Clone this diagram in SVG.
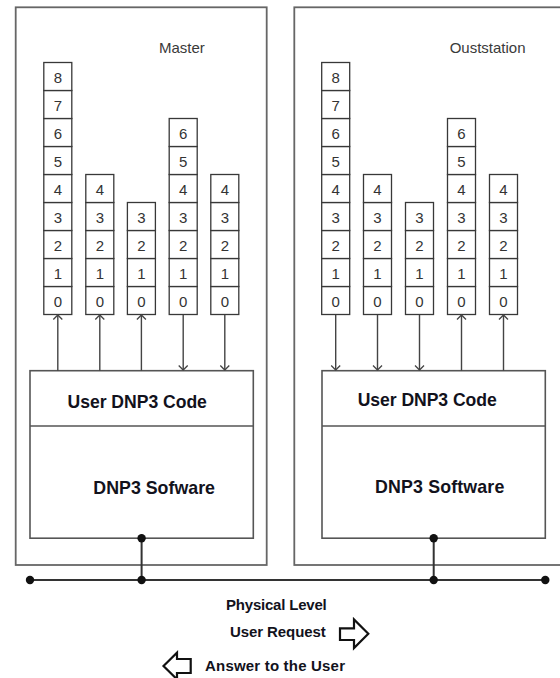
<svg xmlns="http://www.w3.org/2000/svg" xmlns:xlink="http://www.w3.org/1999/xlink" width="560" height="678" viewBox="0 0 560 678">
  <style>
    .frame{fill:none;stroke:#666;stroke-width:1.8}
    .box{fill:none;stroke:#555;stroke-width:1.6}
    .cell{fill:#fff;stroke:#383838;stroke-width:1.3}
    .digit{font-family:"Liberation Sans",Arial,sans-serif;font-size:15px;fill:#333;text-anchor:middle}
    .title{font-family:"Liberation Sans",Arial,sans-serif;font-size:15px;fill:#3a3a3a}
    .lbl{font-family:"Liberation Sans",Arial,sans-serif;font-weight:bold;fill:#12121c}
    .wire{fill:none;stroke:#444;stroke-width:1.4}
    .bus{fill:none;stroke:#333;stroke-width:2}
    .dot{fill:#111}
    .block{fill:#fff;stroke:#111;stroke-width:2.2;stroke-linejoin:miter}
  </style>
  <defs>
    <rect id="c" class="cell" width="28" height="28"/>
    <marker id="chev" markerUnits="userSpaceOnUse" markerWidth="12" markerHeight="12" refX="0" refY="0" viewBox="-6 -6 12 12" orient="auto" overflow="visible">
      <path d="M-4.5,-4.5 L0,0 L-4.5,4.5" fill="none" stroke="#444" stroke-width="1.3"/>
    </marker>
  </defs>
  <rect width="560" height="678" fill="#fff"/>

  <!-- Master station -->
  <g id="master">
    <rect class="frame" x="15.7" y="7.3" width="251" height="557.7"/>
    <text class="title" x="159" y="53.3">Master</text>
  </g>
  <g id="master-col1" transform="translate(43.8,0)">
    <use xlink:href="#c" y="286.5"/><use xlink:href="#c" y="258.5"/><use xlink:href="#c" y="230.5"/>
    <use xlink:href="#c" y="202.5"/><use xlink:href="#c" y="174.5"/><use xlink:href="#c" y="146.5"/>
    <use xlink:href="#c" y="118.5"/><use xlink:href="#c" y="90.5"/><use xlink:href="#c" y="62.5"/>
    <text class="digit" x="14" y="306.5">0</text><text class="digit" x="14" y="278.5">1</text>
    <text class="digit" x="14" y="250.5">2</text><text class="digit" x="14" y="222.5">3</text>
    <text class="digit" x="14" y="194.5">4</text><text class="digit" x="14" y="166.5">5</text>
    <text class="digit" x="14" y="138.5">6</text><text class="digit" x="14" y="110.5">7</text>
    <text class="digit" x="14" y="82.5">8</text>
  </g>
  <g id="master-col2" transform="translate(85.8,0)">
    <use xlink:href="#c" y="286.5"/><use xlink:href="#c" y="258.5"/><use xlink:href="#c" y="230.5"/>
    <use xlink:href="#c" y="202.5"/><use xlink:href="#c" y="174.5"/>
    <text class="digit" x="14" y="306.5">0</text><text class="digit" x="14" y="278.5">1</text>
    <text class="digit" x="14" y="250.5">2</text><text class="digit" x="14" y="222.5">3</text>
    <text class="digit" x="14" y="194.5">4</text>
  </g>
  <g id="master-col3" transform="translate(127.4,0)">
    <use xlink:href="#c" y="286.5"/><use xlink:href="#c" y="258.5"/><use xlink:href="#c" y="230.5"/>
    <use xlink:href="#c" y="202.5"/>
    <text class="digit" x="14" y="306.5">0</text><text class="digit" x="14" y="278.5">1</text>
    <text class="digit" x="14" y="250.5">2</text><text class="digit" x="14" y="222.5">3</text>
  </g>
  <g id="master-col4" transform="translate(169.2,0)">
    <use xlink:href="#c" y="286.5"/><use xlink:href="#c" y="258.5"/><use xlink:href="#c" y="230.5"/>
    <use xlink:href="#c" y="202.5"/><use xlink:href="#c" y="174.5"/><use xlink:href="#c" y="146.5"/>
    <use xlink:href="#c" y="118.5"/>
    <text class="digit" x="14" y="306.5">0</text><text class="digit" x="14" y="278.5">1</text>
    <text class="digit" x="14" y="250.5">2</text><text class="digit" x="14" y="222.5">3</text>
    <text class="digit" x="14" y="194.5">4</text><text class="digit" x="14" y="166.5">5</text>
    <text class="digit" x="14" y="138.5">6</text>
  </g>
  <g id="master-col5" transform="translate(210.8,0)">
    <use xlink:href="#c" y="286.5"/><use xlink:href="#c" y="258.5"/><use xlink:href="#c" y="230.5"/>
    <use xlink:href="#c" y="202.5"/><use xlink:href="#c" y="174.5"/>
    <text class="digit" x="14" y="306.5">0</text><text class="digit" x="14" y="278.5">1</text>
    <text class="digit" x="14" y="250.5">2</text><text class="digit" x="14" y="222.5">3</text>
    <text class="digit" x="14" y="194.5">4</text>
  </g>
  <g id="master-stack">
    <rect class="box" x="30" y="370.7" width="223.3" height="167.5"/>
    <line class="box" x1="30" y1="426" x2="253.3" y2="426"/>
    <text class="lbl" x="67.5" y="407.8" font-size="17.6" textLength="139.4">User DNP3 Code</text>
    <text class="lbl" x="93.3" y="494" font-size="17.8" textLength="121.7">DNP3 Sofware</text>
  </g>

  <!-- Outstation -->
  <g id="outstation">
    <rect class="frame" x="294.3" y="7.3" width="290" height="557.7"/>
    <text class="title" x="449.7" y="53.3">Ouststation</text>
  </g>
  <g id="out-col1" transform="translate(321.7,0)">
    <use xlink:href="#c" y="286.5"/><use xlink:href="#c" y="258.5"/><use xlink:href="#c" y="230.5"/>
    <use xlink:href="#c" y="202.5"/><use xlink:href="#c" y="174.5"/><use xlink:href="#c" y="146.5"/>
    <use xlink:href="#c" y="118.5"/><use xlink:href="#c" y="90.5"/><use xlink:href="#c" y="62.5"/>
    <text class="digit" x="14" y="306.5">0</text><text class="digit" x="14" y="278.5">1</text>
    <text class="digit" x="14" y="250.5">2</text><text class="digit" x="14" y="222.5">3</text>
    <text class="digit" x="14" y="194.5">4</text><text class="digit" x="14" y="166.5">5</text>
    <text class="digit" x="14" y="138.5">6</text><text class="digit" x="14" y="110.5">7</text>
    <text class="digit" x="14" y="82.5">8</text>
  </g>
  <g id="out-col2" transform="translate(363.5,0)">
    <use xlink:href="#c" y="286.5"/><use xlink:href="#c" y="258.5"/><use xlink:href="#c" y="230.5"/>
    <use xlink:href="#c" y="202.5"/><use xlink:href="#c" y="174.5"/>
    <text class="digit" x="14" y="306.5">0</text><text class="digit" x="14" y="278.5">1</text>
    <text class="digit" x="14" y="250.5">2</text><text class="digit" x="14" y="222.5">3</text>
    <text class="digit" x="14" y="194.5">4</text>
  </g>
  <g id="out-col3" transform="translate(405.5,0)">
    <use xlink:href="#c" y="286.5"/><use xlink:href="#c" y="258.5"/><use xlink:href="#c" y="230.5"/>
    <use xlink:href="#c" y="202.5"/>
    <text class="digit" x="14" y="306.5">0</text><text class="digit" x="14" y="278.5">1</text>
    <text class="digit" x="14" y="250.5">2</text><text class="digit" x="14" y="222.5">3</text>
  </g>
  <g id="out-col4" transform="translate(447.5,0)">
    <use xlink:href="#c" y="286.5"/><use xlink:href="#c" y="258.5"/><use xlink:href="#c" y="230.5"/>
    <use xlink:href="#c" y="202.5"/><use xlink:href="#c" y="174.5"/><use xlink:href="#c" y="146.5"/>
    <use xlink:href="#c" y="118.5"/>
    <text class="digit" x="14" y="306.5">0</text><text class="digit" x="14" y="278.5">1</text>
    <text class="digit" x="14" y="250.5">2</text><text class="digit" x="14" y="222.5">3</text>
    <text class="digit" x="14" y="194.5">4</text><text class="digit" x="14" y="166.5">5</text>
    <text class="digit" x="14" y="138.5">6</text>
  </g>
  <g id="out-col5" transform="translate(489.5,0)">
    <use xlink:href="#c" y="286.5"/><use xlink:href="#c" y="258.5"/><use xlink:href="#c" y="230.5"/>
    <use xlink:href="#c" y="202.5"/><use xlink:href="#c" y="174.5"/>
    <text class="digit" x="14" y="306.5">0</text><text class="digit" x="14" y="278.5">1</text>
    <text class="digit" x="14" y="250.5">2</text><text class="digit" x="14" y="222.5">3</text>
    <text class="digit" x="14" y="194.5">4</text>
  </g>
  <g id="out-stack">
    <rect class="box" x="322" y="370.7" width="223.3" height="167.5"/>
    <line class="box" x1="322" y1="426" x2="545.3" y2="426"/>
    <text class="lbl" x="357.7" y="405.8" font-size="17.6" textLength="139">User DNP3 Code</text>
    <text class="lbl" x="375" y="492.7" font-size="17.8" textLength="129.3">DNP3 Software</text>
  </g>

  <!-- Connectors: queue links, drops and the shared bus -->
  <g id="connectors">
    <line class="wire" x1="57.8" y1="370.7" x2="57.8" y2="315" marker-end="url(#chev)"/>
    <line class="wire" x1="99.8" y1="370.7" x2="99.8" y2="315" marker-end="url(#chev)"/>
    <line class="wire" x1="141.4" y1="370.7" x2="141.4" y2="315" marker-end="url(#chev)"/>
    <line class="wire" x1="183.2" y1="315" x2="183.2" y2="370" marker-end="url(#chev)"/>
    <line class="wire" x1="224.8" y1="315" x2="224.8" y2="370" marker-end="url(#chev)"/>

    <line class="wire" x1="335.7" y1="315" x2="335.7" y2="370" marker-end="url(#chev)"/>
    <line class="wire" x1="377.5" y1="315" x2="377.5" y2="370" marker-end="url(#chev)"/>
    <line class="wire" x1="419.5" y1="315" x2="419.5" y2="370" marker-end="url(#chev)"/>
    <line class="wire" x1="461.5" y1="370.7" x2="461.5" y2="315" marker-end="url(#chev)"/>
    <line class="wire" x1="503.5" y1="370.7" x2="503.5" y2="315" marker-end="url(#chev)"/>

    <line class="bus" x1="141.6" y1="538.2" x2="141.6" y2="580"/>
    <line class="bus" x1="433.7" y1="538.2" x2="433.7" y2="580"/>
    <line class="bus" x1="30" y1="580" x2="545.3" y2="580"/>
    <circle class="dot" cx="141.6" cy="538.2" r="4.2"/>
    <circle class="dot" cx="141.6" cy="580" r="4.2"/>
    <circle class="dot" cx="433.7" cy="538.2" r="4.2"/>
    <circle class="dot" cx="433.7" cy="580" r="4.2"/>
    <circle class="dot" cx="30" cy="580" r="4.2"/>
    <circle class="dot" cx="545.3" cy="580" r="4.2"/>
  </g>

  <!-- Legend -->
  <g id="legend">
    <text class="lbl" x="226" y="610" font-size="15" textLength="100.7">Physical Level</text>
    <text class="lbl" x="230" y="636.7" font-size="15" textLength="95.7">User Request</text>
    <path class="block" d="M340,628.3 H354 V619.5 L368.3,633.8 L354,648 V640 H340 Z"/>
    <path class="block" d="M163.5,666 L177,652.7 V659 H190.7 V673 H177 V679.3 Z"/>
    <text class="lbl" x="205" y="671" font-size="15" textLength="140">Answer to the User</text>
  </g>
</svg>
